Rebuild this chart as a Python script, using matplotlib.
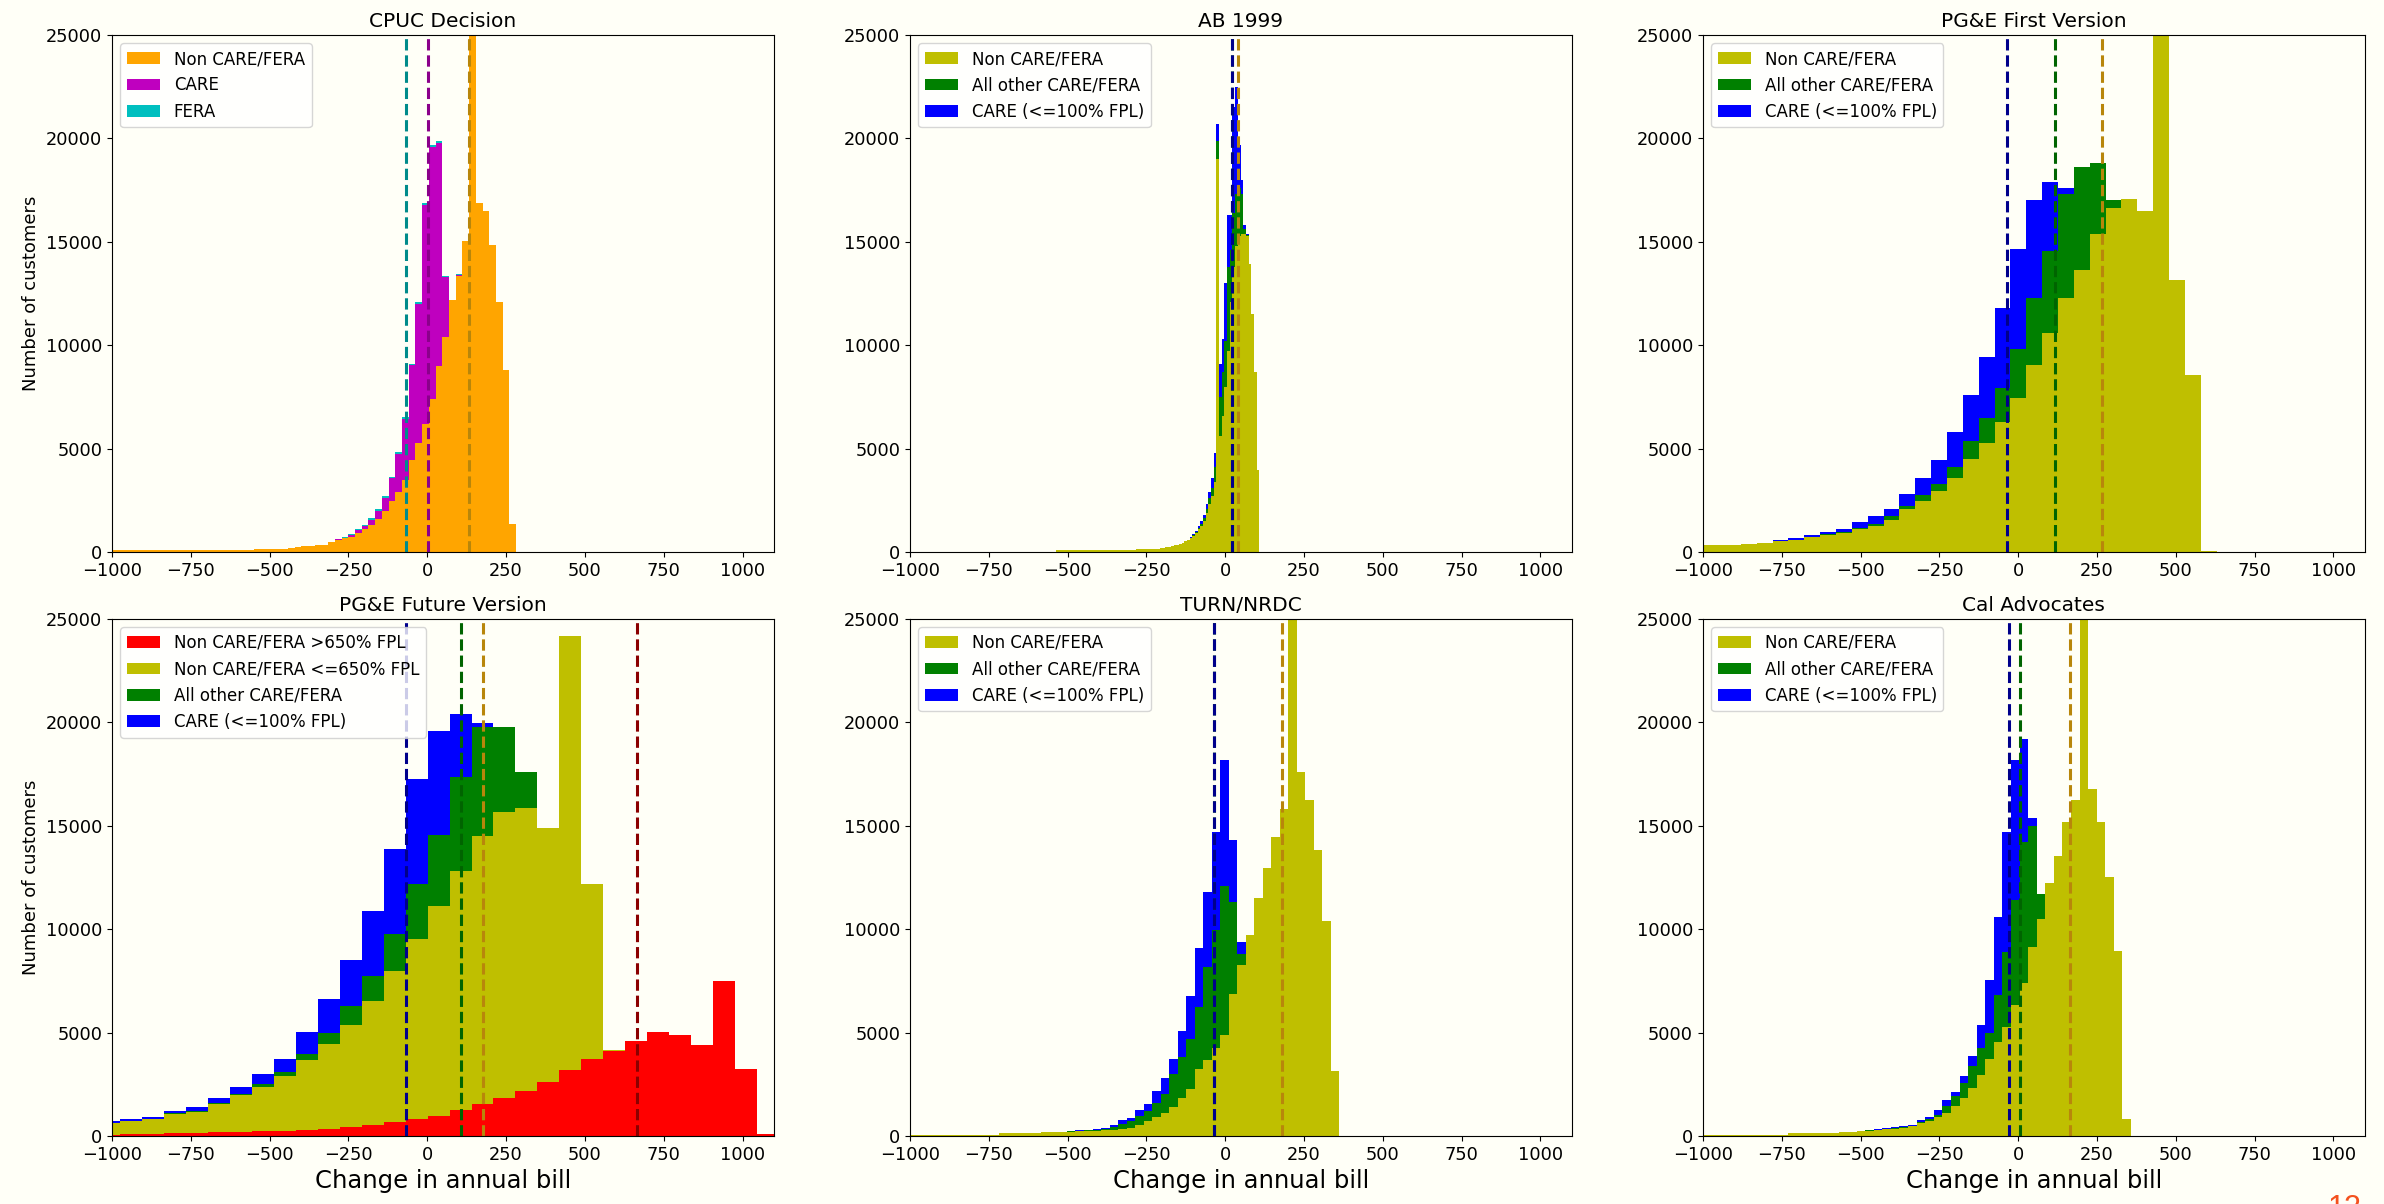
import numpy as np
import matplotlib
matplotlib.use("Agg")
import matplotlib.pyplot as plt

BG = "#fffff7"

# ---- CPUC Decision (61 bins)
cpuc_range = (-1017.3, 282.0)
cpuc_non = [90, 90, 100, 100, 100, 100, 100, 100, 100, 100, 100, 100, 100, 100, 100, 100,
            100, 100, 100, 100, 110, 110,
            130, 140, 150, 150, 170, 200, 220, 270, 300, 330, 360,
            470, 590, 670, 750, 920, 1100, 1310, 1590, 2000, 2450, 2900,
            3480, 4430, 5250, 6200, 7400, 9000, 10400, 12200, 13350, 15060, 26000,
            16900, 16500, 14850, 12100, 8800, 1360]
cpuc_care = [0] * 34 + [50, 30, 80, 130, 140, 260, 410, 620, 1110, 1860, 2950, 4600, 6750,
                        10600, 12200, 10800, 2880, 0, 50] + [0] * 8
cpuc_fera = [0] * 35 + [20, 40, 50, 70, 80, 80, 90, 80, 100, 100, 80, 70, 100, 60, 60, 60,
                        0, 60] + [0] * 8
cpuc_means = [(-69, "darkcyan"), (3, "darkmagenta"), (133, "darkgoldenrod")]

# ---- AB 1999 (76 bins)
ab_range = (-538.0, 108.0)
ab_non = [110] + [100] * 21 + [110] * 5 + [120] * 3 + \
         [130, 130, 130, 140, 140, 150, 150, 160, 170, 180,
          200, 220, 250, 280, 320, 360, 410, 460, 520, 590,
          680, 780, 900, 1100, 1250, 1500, 1900, 2300, 2700, 3400,
          19000, 5600, 6600, 8000, 9700, 12100, 13800, 14800, 15300, 15400,
          15400, 15300, 13950, 11500, 8700, 3970]
ab_other = [0] * 50 + [20, 30, 50, 60, 100, 150, 200, 300, 400, 700, 900, 1900, 2100, 2200,
                       4100, 2500, 2600, 2500, 2300, 1900, 200, 50] + [0] * 4
ab_care = [0] * 50 + [40, 50, 80, 120, 150, 150, 200, 300, 500, 700, 800, 1600, 1600, 2800,
                      2500, 1700, 5100, 5200, 2100, 700, 200, 50] + [0] * 4
ab_means = [(23, "darkgreen"), (22, "darkblue"), (41, "darkgoldenrod")]

# ---- PG&E First Version (33 bins)
first_range = (-1030.6, 629.3)
first_non = [330, 330, 330, 370, 460, 550, 600, 740, 830, 920, 1100, 1260, 1530, 2090, 2460,
             2960, 3600, 4490, 5270, 6300, 7450, 9060, 10580, 12260, 13650, 15370, 16660,
             17070, 16480, 27000, 13150, 8560, 60]
first_other = [0] * 7 + [10, 20, 30, 50, 90, 190, 130, 280, 330, 520, 870, 1200, 1650, 2350,
                         3200, 3990, 5040, 4950, 3450, 370] + [0] * 6
first_care = [0] * 5 + [50, 100, 80, 110, 160, 290, 370, 370, 570, 830, 1150, 1670, 2240,
                        2960, 3850, 4830, 4740, 3330, 280] + [0] * 9
first_means = [(-34.5, "darkblue"), (116.5, "darkgreen"), (267.5, "darkgoldenrod")]

# ---- PG&E Future Version (31 bins)
future_range = (-1043.0, 1114.6)
future_high = [50, 80, 100, 120, 150, 180, 200, 220, 250, 310, 360, 440, 540, 670, 830, 960,
               1250, 1540, 1860, 2170, 2630, 3200, 3740, 4130, 4600, 5030, 4900, 4380, 7490,
               3230, 100]
future_low = [580, 650, 710, 940, 1000, 1360, 1760, 2140, 2630, 3340, 4110, 4940, 5990, 7300,
              8690, 10140, 11550, 12960, 13790, 13710, 12250, 20990, 8450, 50] + [0] * 7
future_other = [0, 0, 20, 30, 50, 60, 90, 140, 190, 320, 520, 900, 1210, 1820, 2670, 3450,
                4580, 5280, 4130, 1720] + [0] * 11
future_care = [80, 80, 70, 100, 200, 260, 310, 480, 670, 1060, 1630, 2230, 3150, 4070, 5090,
               5040, 3010, 190] + [0] * 13
future_means = [(-69, "darkblue"), (108, "darkgreen"), (177, "darkgoldenrod"), (665, "darkred")]

# ---- TURN/NRDC (51 bins)
turn_range = (-1015.0, 362.0)
turn_non = [60] * 11 + [140] * 5 + [190] * 3 + [200, 220, 240, 260, 280, 300, 330, 380] + \
           [540, 700, 900, 1110, 1390, 1850, 2290, 3240, 3650, 4250, 4900, 6880, 8270, 9700,
            11530, 12970, 14470, 15830, 26500, 17580, 16270, 13830, 10400, 3120]
turn_other = [0] * 19 + [20, 30, 40, 50, 60, 130, 240, 320, 410, 530, 690, 900, 1600, 1960,
                         2420, 3020, 4540, 5690, 7200, 4450, 530] + [0] * 11
turn_care = [0] * 19 + [10, 20, 20, 30, 40, 80, 210, 170, 330, 320, 580, 770, 740, 1260,
                        2080, 2810, 3630, 4740, 6100, 2980, 600] + [0] * 11
turn_means = [(-35, "darkgreen"), (-35, "darkblue"), (180, "darkgoldenrod")]

# ---- Cal Advocates (50 bins)
cal_range = (-1002.0, 358.0)
cal_non = [60] * 10 + [140] * 6 + [180] * 2 + [220, 260, 290, 320, 350, 380] + \
          [460, 620, 700, 900, 1110, 1440, 1850, 2340, 2940, 3730, 4550, 5280, 6340, 7410,
           9120, 10500, 12230, 13540, 15200, 16240, 26500, 16780, 15170, 12500, 8930, 800]
cal_other = [0] * 18 + [10, 20, 20, 30, 30, 40, 40, 70, 100, 100, 330, 490, 730, 1060, 1310,
                        1270, 2280, 3600, 5070, 6790, 5880, 1200] + [0] * 10
cal_care = [0] * 18 + [10, 10, 20, 20, 30, 70, 40, 60, 100, 280, 280, 200, 330, 490, 1110,
                       2540, 3770, 5800, 6790, 5000, 370, 0] + [0] * 10
cal_means = [(-30, "darkblue"), (5, "darkgreen"), (166, "darkgoldenrod")]

lab_non = "Non CARE/FERA"
lab_other = "All other CARE/FERA"
lab_care = "CARE (<=100% FPL)"

panels = [
    ("CPUC Decision", cpuc_range,
     [(cpuc_non, "orange", lab_non), (cpuc_care, "m", "CARE"), (cpuc_fera, "c", "FERA")],
     cpuc_means),
    ("AB 1999", ab_range,
     [(ab_non, "y", lab_non), (ab_other, "g", lab_other), (ab_care, "b", lab_care)],
     ab_means),
    ("PG&E First Version", first_range,
     [(first_non, "y", lab_non), (first_other, "g", lab_other), (first_care, "b", lab_care)],
     first_means),
    ("PG&E Future Version", future_range,
     [(future_high, "r", "Non CARE/FERA >650% FPL"), (future_low, "y", "Non CARE/FERA <=650% FPL"),
      (future_other, "g", lab_other), (future_care, "b", lab_care)],
     future_means),
    ("TURN/NRDC", turn_range,
     [(turn_non, "y", lab_non), (turn_other, "g", lab_other), (turn_care, "b", lab_care)],
     turn_means),
    ("Cal Advocates", cal_range,
     [(cal_non, "y", lab_non), (cal_other, "g", lab_other), (cal_care, "b", lab_care)],
     cal_means),
]

fig = plt.figure(figsize=(23.84, 12.04), dpi=100, facecolor=BG)
lefts = [0.047, 0.3817, 0.7143]
bottoms = [0.5415, 0.0565]
w, h = 0.2777, 0.4294

for k, (title, rng, series, means) in enumerate(panels):
    row, col = divmod(k, 3)
    ax = fig.add_axes([lefts[col], bottoms[row], w, h], facecolor=BG)
    n = len(series[0][0])
    edges = np.linspace(rng[0], rng[1], n + 1)
    base = np.zeros(n)
    for vals, color, label in series:
        top = base + np.asarray(vals, dtype=float)
        ax.stairs(top, edges, baseline=base, fill=True, color=color, label=label, lw=0)
        base = top
    for x, c in means:
        ax.axvline(x, color=c, ls="--", lw=2.2)
    ax.set_xlim(-1000, 1100)
    ax.set_ylim(0, 25000)
    ax.set_xticks(np.arange(-1000, 1001, 250))
    ax.set_yticks(np.arange(0, 25001, 5000))
    ax.tick_params(labelsize=12.8)
    ax.set_title(title, fontsize=14.5)
    ax.legend(loc="upper left", fontsize=12)
    if col == 0:
        ax.set_ylabel("Number of customers", fontsize=13)
    if row == 1:
        ax.set_xlabel("Change in annual bill", fontsize=17.5)

# slide page number, mostly below the bottom edge as in the screenshot
fig.text(2345 / 2384, 1 - 1194 / 1204, "12", color="#f4511e", fontsize=22,
         ha="center", va="top", family="Liberation Sans")

fig.savefig("out.png", dpi=100, facecolor=BG)
